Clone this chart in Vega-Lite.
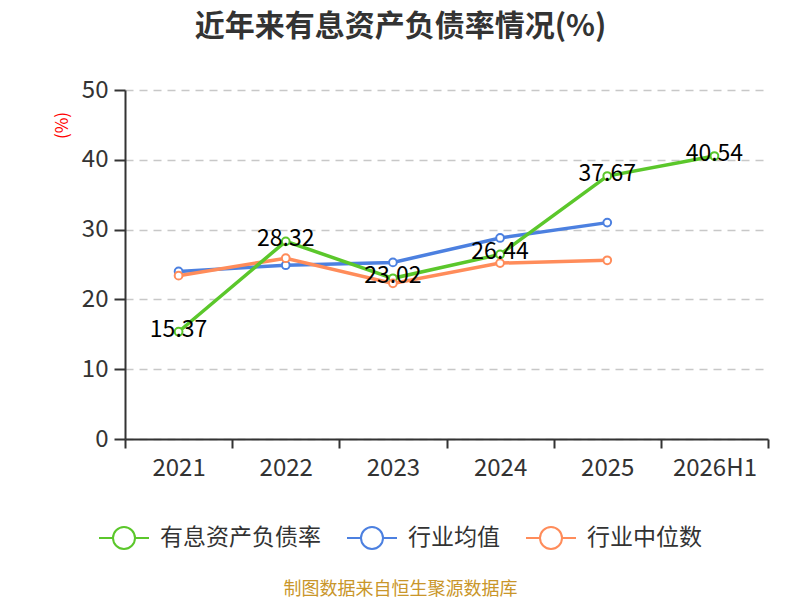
{
  "$schema": "https://vega.github.io/schema/vega-lite/v6.json",
  "autosize": "none",
  "width": 643,
  "height": 349,
  "padding": {"left": 125, "top": 90, "right": 32, "bottom": 161},
  "background": "white",
  "config": {
    "font": "Noto Sans CJK SC",
    "view": {"stroke": null}
  },
  "title": {
    "text": "近年来有息资产负债率情况(%)",
    "fontSize": 30,
    "fontWeight": "bold",
    "color": "#333333",
    "anchor": "middle",
    "dx": -46,
    "offset": 36
  },
  "data": {
    "values": [
      {"year": "2021", "series": "有息资产负债率", "value": 15.37},
      {"year": "2022", "series": "有息资产负债率", "value": 28.32},
      {"year": "2023", "series": "有息资产负债率", "value": 23.02},
      {"year": "2024", "series": "有息资产负债率", "value": 26.44},
      {"year": "2025", "series": "有息资产负债率", "value": 37.67},
      {"year": "2026H1", "series": "有息资产负债率", "value": 40.54},
      {"year": "2021", "series": "行业均值", "value": 24.0},
      {"year": "2022", "series": "行业均值", "value": 24.9},
      {"year": "2023", "series": "行业均值", "value": 25.3},
      {"year": "2024", "series": "行业均值", "value": 28.8},
      {"year": "2025", "series": "行业均值", "value": 31.0},
      {"year": "2021", "series": "行业中位数", "value": 23.4},
      {"year": "2022", "series": "行业中位数", "value": 25.9},
      {"year": "2023", "series": "行业中位数", "value": 22.3},
      {"year": "2024", "series": "行业中位数", "value": 25.2},
      {"year": "2025", "series": "行业中位数", "value": 25.6}
    ]
  },
  "encoding": {
    "x": {
      "field": "year",
      "type": "ordinal",
      "sort": ["2021", "2022", "2023", "2024", "2025", "2026H1"],
      "scale": {"type": "band", "paddingInner": 0, "paddingOuter": 0},
      "axis": {
        "title": "制图数据来自恒生聚源数据库",
        "titleColor": "#C9962A",
        "titleFontSize": 18,
        "titleFontWeight": "normal",
        "titleX": 275,
        "titleY": 150,
        "titleBaseline": "middle",
        "labelAngle": 0,
        "labelFontSize": 24,
        "labelColor": "#333333",
        "labelPadding": 8,
        "domainColor": "#333333",
        "domainWidth": 2,
        "tickColor": "#333333",
        "tickWidth": 2,
        "tickSize": 9,
        "tickBand": "extent",
        "grid": false
      }
    },
    "y": {
      "field": "value",
      "type": "quantitative",
      "scale": {"domain": [0, 50]},
      "axis": {
        "title": "(%)",
        "titleColor": "#FF0000",
        "titleFontSize": 17,
        "titleFontWeight": "normal",
        "titleAngle": -90,
        "titleX": -63,
        "titleY": 35,
        "titleAlign": "center",
        "titleBaseline": "middle",
        "values": [0, 10, 20, 30, 40, 50],
        "labelFontSize": 24,
        "labelColor": "#333333",
        "labelPadding": 6,
        "domainColor": "#333333",
        "domainWidth": 2,
        "tickColor": "#333333",
        "tickWidth": 2,
        "tickSize": 11,
        "grid": true,
        "gridColor": "#C8C8C8",
        "gridDash": [8, 6],
        "gridWidth": 1.5
      }
    }
  },
  "layer": [
    {
      "transform": [{"filter": "datum.series !== '有息资产负债率'"}],
      "mark": {"type": "line", "strokeWidth": 3.5},
      "encoding": {
        "color": {
          "field": "series",
          "type": "nominal",
          "scale": {
            "domain": ["有息资产负债率", "行业均值", "行业中位数"],
            "range": ["#5BC72B", "#4C80E0", "#FF8C5A"]
          },
          "legend": {
            "title": null,
            "orient": "none",
            "direction": "horizontal",
            "legendX": -27,
            "legendY": 422,
            "symbolType": "M-1,0L-0.44,0M0.44,0L1,0M-0.44,0A0.44,0.44,0,1,1,0.44,0A0.44,0.44,0,1,1,-0.44,0Z",
            "symbolSize": 2500,
            "symbolStrokeWidth": 2,
            "symbolFillColor": "white",
            "labelFontSize": 23,
            "labelColor": "#333333",
            "labelLimit": 300,
            "labelOffset": 10,
            "columnPadding": 22
          }
        }
      }
    },
    {
      "transform": [{"filter": "datum.series === '有息资产负债率'"}],
      "mark": {"type": "line", "strokeWidth": 3.5},
      "encoding": {
        "color": {"field": "series", "type": "nominal"}
      }
    },
    {
      "mark": {"type": "point", "filled": false, "fill": "white", "fillOpacity": 1, "size": 60, "strokeWidth": 2, "opacity": 1},
      "encoding": {
        "color": {"field": "series", "type": "nominal"}
      }
    },
    {
      "transform": [{"filter": "datum.series === '有息资产负债率'"}],
      "mark": {"type": "text", "fontSize": 23, "color": "#000000", "baseline": "middle", "dy": -2},
      "encoding": {
        "text": {"field": "value", "type": "quantitative", "format": ".2f"}
      }
    }
  ]
}
